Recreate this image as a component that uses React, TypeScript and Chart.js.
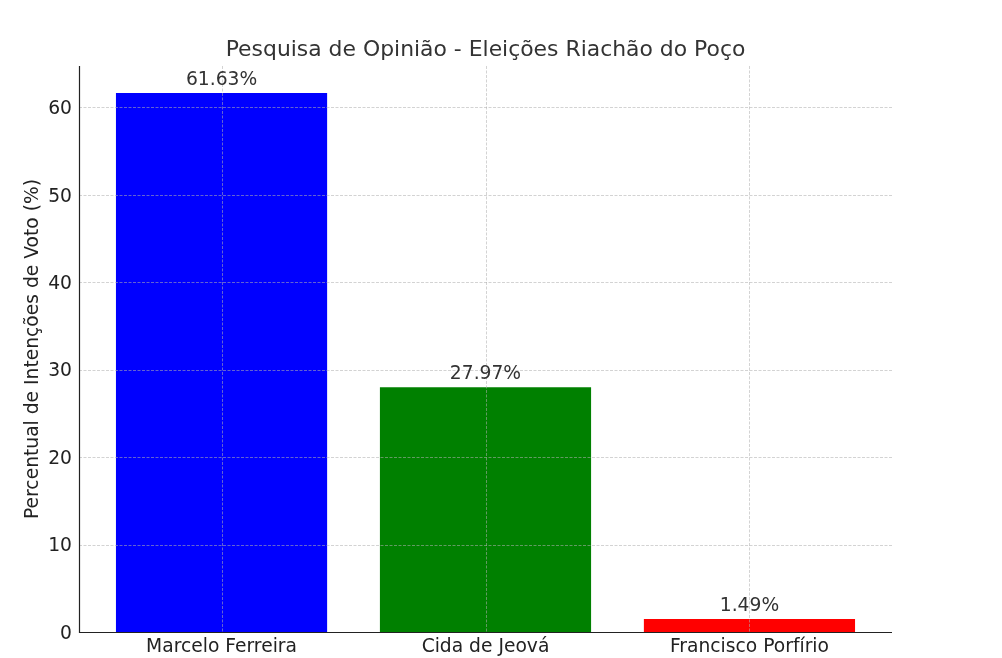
import React, { useEffect, useRef } from "react";
import { Chart, registerables } from "chart.js";

Chart.register(...registerables);

const chartTitle = "Pesquisa de Opinião - Eleições Riachão do Poço";
const yAxisTitle = "Percentual de Intenções de Voto (%)";
const candidates = ["Marcelo Ferreira", "Cida de Jeová", "Francisco Porfírio"];
const percentages = [61.63, 27.97, 1.49];
const barColors = ["#0000ff", "#008000", "#ff0000"];
const yTicks = [0, 10, 20, 30, 40, 50, 60];

const FONT = "'DejaVu Sans', sans-serif";
const TICK_SIZE = 18.7;

const overlayPlugin = {
  id: "overlay",
  afterDatasetsDraw(chart: any) {
    const { ctx, chartArea, scales } = chart;
    const x = scales.x;
    const y = scales.y;
    ctx.save();
    // grid over bars
    ctx.strokeStyle = "rgba(176,176,176,0.7)";
    ctx.lineWidth = 0.8;
    ctx.setLineDash([3, 1.5]);
    yTicks.forEach((t) => {
      const py = Math.round(y.getPixelForValue(t)) + 0.5;
      ctx.beginPath();
      ctx.moveTo(chartArea.left, py);
      ctx.lineTo(chartArea.right, py);
      ctx.stroke();
    });
    candidates.forEach((_, i) => {
      const px = Math.round(x.getPixelForValue(i)) + 0.5;
      ctx.beginPath();
      ctx.moveTo(px, chartArea.top);
      ctx.lineTo(px, chartArea.bottom);
      ctx.stroke();
    });
    ctx.setLineDash([]);
    // spines
    ctx.strokeStyle = "#222";
    ctx.lineWidth = 1.2;
    ctx.beginPath();
    ctx.moveTo(chartArea.left + 0.5, chartArea.top);
    ctx.lineTo(chartArea.left + 0.5, chartArea.bottom + 0.5);
    ctx.lineTo(chartArea.right, chartArea.bottom + 0.5);
    ctx.stroke();
    // value labels
    const meta = chart.getDatasetMeta(0);
    ctx.fillStyle = "#333";
    ctx.font = `${TICK_SIZE}px ${FONT}`;
    ctx.textAlign = "center";
    ctx.textBaseline = "alphabetic";
    meta.data.forEach((bar: any, i: number) => {
      ctx.fillText(percentages[i].toFixed(2) + "%", bar.x, bar.y - 8);
    });
    ctx.restore();
  },
};

export default function App() {
  const ref = useRef<HTMLCanvasElement | null>(null);

  useEffect(() => {
    if (!ref.current) return;
    const chart = new Chart(ref.current, {
      type: "bar",
      data: {
        datasets: [
          {
            data: percentages.map((v, i) => ({ x: i, y: v })),
            backgroundColor: barColors,
            borderWidth: 0,
            barPercentage: 0.8,
            categoryPercentage: 1,
          },
        ],
      },
      options: {
        responsive: false,
        animation: false,
        layout: { padding: { left: 0, right: 110, top: 0, bottom: 0 } },
        plugins: {
          legend: { display: false },
          tooltip: { enabled: false },
          title: {
            display: true,
            text: chartTitle,
            fullSize: false,
            color: "#333",
            font: { family: FONT, size: 21.9, weight: "normal" },
            padding: { top: 36.8, bottom: 2.9 },
          },
        },
        scales: {
          x: {
            type: "linear",
            min: -0.54,
            max: 2.54,
            offset: false,
            afterBuildTicks: (scale: any) => {
              scale.ticks = candidates.map((_, i) => ({ value: i }));
            },
            afterFit: (scale: any) => {
              scale.height = 26;
            },
            ticks: {
              callback: (v: any) => candidates[Math.round(Number(v))] ?? "",
              color: "#222",
              font: { family: FONT, size: TICK_SIZE },
              padding: 4,
              maxRotation: 0,
              autoSkip: false,
            },
            grid: { display: false, offset: false, drawTicks: false, tickLength: 0 },
            border: { display: false },
          },
          y: {
            type: "linear",
            min: 0,
            max: 64.71,
            afterBuildTicks: (scale: any) => {
              scale.ticks = yTicks.map((v) => ({ value: v }));
            },
            afterFit: (scale: any) => {
              scale.width = 79;
            },
            ticks: {
              color: "#222",
              font: { family: FONT, size: TICK_SIZE },
              padding: 7,
              labelOffset: 2,
            },
            grid: { display: false, drawTicks: false, tickLength: 0 },
            border: { display: false },
            title: {
              display: true,
              text: yAxisTitle,
              color: "#222",
              font: { family: FONT, size: TICK_SIZE },
              padding: { top: 22, bottom: 0 },
            },
          },
        },
      },
      plugins: [overlayPlugin],
    } as any);
    return () => chart.destroy();
  }, []);

  return (
    <div style={{ position: "fixed", left: 0, top: 0, width: 1002, height: 658, background: "#fff" }}>
      <canvas ref={ref} width={1002} height={658} />
    </div>
  );
}
